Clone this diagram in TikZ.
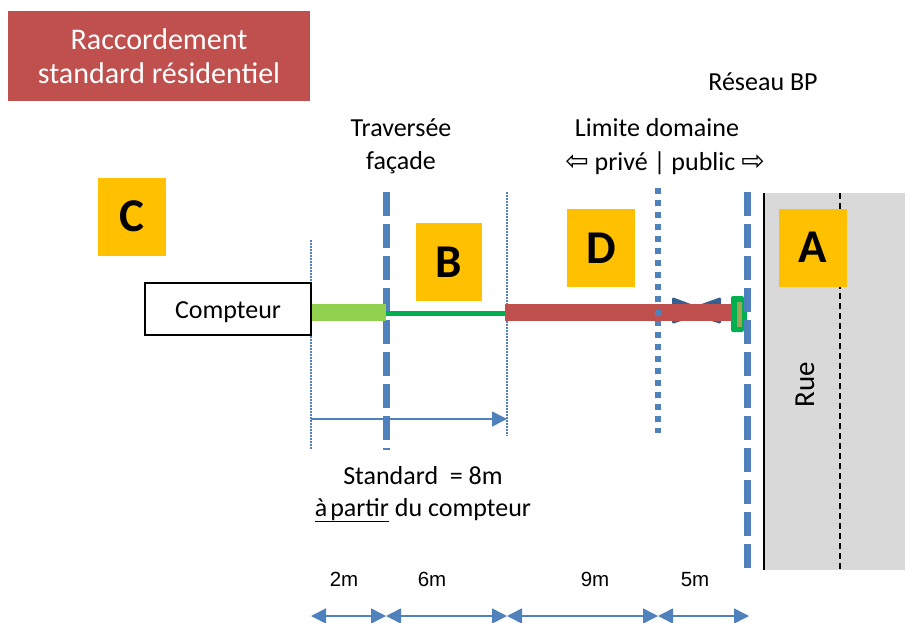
\documentclass[tikz,border=0pt]{standalone}
\usepackage{fontspec}
\setmainfont{Carlito}
\newfontfamily\arrowfont{DejaVu Sans}
\newfontfamily\helv{Liberation Sans}
\usetikzlibrary{arrows.meta}
\definecolor{bl}{HTML}{4F81BD}
\definecolor{rd}{HTML}{C0504D}
\definecolor{og}{HTML}{FFC000}
\definecolor{lg}{HTML}{92D050}
\definecolor{gn}{HTML}{00B050}
\definecolor{gy}{HTML}{D9D9D9}
\definecolor{dk}{HTML}{376092}
\tikzset{
  x=1pt,y=-1pt,
  txt/.style={inner sep=0pt,align=center,font=\fontsize{26}{32}\selectfont},
  dim/.style={inner sep=0pt,font=\helv\fontsize{20.5}{22}\selectfont},
  badge/.style={fill=og,minimum width=68pt,minimum height=78pt,inner sep=0pt,font=\bfseries\fontsize{47}{47}\selectfont},
  dashline/.style={draw=bl,line width=7pt,dash pattern=on 24pt off 8pt},
  dotline/.style={draw=bl,line width=5.5pt,dash pattern=on 6pt off 6pt},
  thindot/.style={draw=bl,line width=1.3pt,dash pattern=on 1.5pt off 1.5pt},
  dimarrow/.style={draw=bl,line width=1.6pt,{Triangle[length=15pt,width=15pt]}-{Triangle[length=15pt,width=15pt]}},
}
\begin{document}
\begin{tikzpicture}
\useasboundingbox (0,0) rectangle (905,623);
% street
\fill[gy] (764,193) rectangle (905,570);
\coordinate (ruleT) at (764,193); \coordinate (ruleB) at (764,570);
\draw[black,line width=2pt] (ruleT) -- (ruleB);
\coordinate (curbT) at (840,193); \coordinate (curbB) at (840,570);
\draw[black,line width=1.3pt,dash pattern=on 6pt off 4pt] (curbT) -- (curbB);
% title
\node[fill=rd,text=white,minimum width=302pt,minimum height=90pt,inner sep=0pt,align=center,font=\fontsize{30}{34}\selectfont] (title) at (159,56) {Raccordement\\standard résidentiel};
% guides
\coordinate (g1T) at (311,240); \coordinate (g1B) at (311,450);
\coordinate (g2T) at (507,192); \coordinate (g2B) at (507,436);
\draw[thindot] (g1T) -- (g1B);
\draw[thindot] (g2T) -- (g2B);
\coordinate (fT) at (386,192); \coordinate (fB) at (386,450);
\draw[dashline] (fT) -- (fB);
\coordinate (lT) at (658,188); \coordinate (lB) at (658,433);
\draw[dotline] (lT) -- (lB);
\coordinate (rT) at (747,192); \coordinate (rB) at (747,570);
\draw[dashline] (rT) -- (rB);
% badges
\node[badge] (C) at (132,216.5) {C};
\node[badge,minimum width=66pt] (B) at (449,262) {B};
\node[badge] (D) at (601,248) {D};
\node[badge] (A) at (813,247.5) {A};
% meter
\node[draw=black,line width=1.5pt,minimum width=166pt,minimum height=52pt,inner sep=0pt] (compteur) at (228,309) {};
\node[txt,anchor=base] (ctxt) at (228,318) {Compteur};
% pipes
\fill[lg] (311.5,304) rectangle (386,321);
\coordinate (p1) at (386,313); \coordinate (p2) at (507,313);
\draw[gn,line width=5pt] (p1) -- (p2);
\fill[dk,rounded corners=1.5pt] (672,297) -- (696,306) -- (721,297) -- (721,324) -- (696,316) -- (672,324) -- cycle;
\fill[rd] (505,304) rectangle (735,321);
\fill[bl] (655,310) rectangle (661,316);
\fill[gn,rounded corners=2pt] (731,296) rectangle (744,332);
\fill[gn] (743,312) rectangle (747,320);
\fill[bl] (743.5,288) rectangle (750.5,312);
\fill[bl] (743.5,320) rectangle (750.5,344);
\fill[lg!70!rd!90!gray] (737,302) rectangle (741.5,327);
% labels
\node[txt,anchor=base] (res) at (763,91) {Réseau BP};
\node[txt,anchor=base] (trav) at (401,137) {Traversée};
\node[txt,anchor=base] (fac) at (401,169) {façade};
\node[txt,anchor=base] (lim) at (657,137) {Limite domaine};
\node[txt,anchor=base] (pp) at (665,171) {{\arrowfont\fontsize{28}{28}\selectfont ⇦} privé | public {\arrowfont\fontsize{28}{28}\selectfont ⇨}};
\node[txt,rotate=90,anchor=base] (rue) at (814,385) {\fontsize{29}{29}\selectfont Rue};
% standard
\coordinate (s1) at (311,419); \coordinate (s2) at (507,419);
\draw[draw=bl,line width=1.6pt,-{Triangle[length=15pt,width=15pt]}] (s1) -- (s2);
\node[txt,anchor=base] (std) at (423,484) {Standard~ = 8m};
\node[txt,anchor=base] (apartir) at (423,516) {\underline{à\kern-3pt\ partir} du compteur};
% dimensions
\node[dim,anchor=base] (d2) at (344,586) {2m};
\node[dim,anchor=base] (d6) at (432,586) {6m};
\node[dim,anchor=base] (d9) at (595,586) {9m};
\node[dim,anchor=base] (d5) at (695,586) {5m};
\coordinate (m0) at (311,616); \coordinate (m1) at (386,616); \coordinate (m2) at (507,616); \coordinate (m3) at (658,616); \coordinate (m4) at (749,616);
\draw[dimarrow] (m0) -- (m1);
\draw[dimarrow] (m1) -- (m2);
\draw[dimarrow] (m2) -- (m3);
\draw[dimarrow] (m3) -- (m4);
\end{tikzpicture}
\end{document}
